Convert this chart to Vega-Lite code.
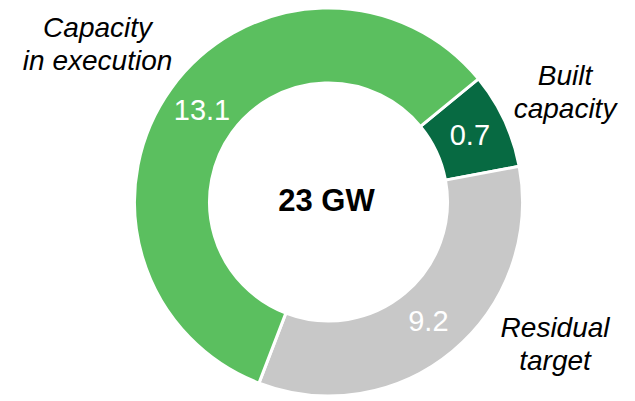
{
  "$schema": "https://vega.github.io/schema/vega-lite/v6.json",
  "width": 635,
  "height": 401,
  "autosize": {"type": "fit", "contains": "padding"},
  "padding": {"left": 22, "top": 3, "right": 0, "bottom": 0},
  "background": "white",
  "config": {"view": {"stroke": null}, "text": {"font": "Liberation Sans"}},
  "data": {
    "values": [
      {"category": "Built capacity", "name": "Built\ncapacity", "label": "0.7", "arc": 28.8, "rank": 1},
      {"category": "Residual target", "name": "Residual\ntarget", "label": "9.2", "arc": 121.6, "rank": 2},
      {"category": "Capacity in execution", "name": "Capacity\nin execution", "label": "13.1", "arc": 209.6, "rank": 3}
    ]
  },
  "layer": [
    {
      "mark": {"type": "arc", "innerRadius": 119, "outerRadius": 194, "stroke": "white", "strokeWidth": 3},
      "encoding": {
        "theta": {"field": "arc", "type": "quantitative", "stack": true, "scale": {"range": [0.8831, 7.1663]}},
        "order": {"field": "rank", "type": "quantitative"},
        "color": {
          "field": "category",
          "type": "nominal",
          "scale": {
            "domain": ["Built capacity", "Residual target", "Capacity in execution"],
            "range": ["#076a42", "#c8c8c8", "#5bbf5f"]
          },
          "legend": null
        }
      }
    },
    {
      "mark": {"type": "text", "radius": 156, "fill": "white", "fontSize": 29, "baseline": "middle", "align": "center"},
      "encoding": {
        "theta": {"field": "arc", "type": "quantitative", "stack": true},
        "order": {"field": "rank", "type": "quantitative"},
        "detail": {"field": "category", "type": "nominal"},
        "text": {"field": "label", "type": "nominal"}
      }
    },
    {
      "mark": {
        "type": "text",
        "fontStyle": "italic",
        "fontSize": 28,
        "lineBreak": "\n",
        "lineHeight": 33,
        "fill": "black",
        "baseline": "middle",
        "align": "center",
        "radius": {"expr": "datum.category == 'Capacity in execution' ? 281 : datum.category == 'Built capacity' ? 261 : 268"},
        "dx": {"expr": "datum.category == 'Capacity in execution' ? -3 : datum.category == 'Built capacity' ? 0 : 55"},
        "dy": {"expr": "datum.category == 'Capacity in execution' ? -9 : datum.category == 'Built capacity' ? -15 : -79"}
      },
      "encoding": {
        "theta": {"field": "arc", "type": "quantitative", "stack": true},
        "order": {"field": "rank", "type": "quantitative"},
        "detail": {"field": "category", "type": "nominal"},
        "text": {"field": "name", "type": "nominal"}
      }
    },
    {
      "data": {"values": [{"total": "23 GW"}]},
      "mark": {"type": "text", "fontWeight": "bold", "fontSize": 31, "baseline": "middle", "align": "center", "fill": "black", "dx": -2},
      "encoding": {"text": {"field": "total", "type": "nominal"}}
    }
  ]
}
